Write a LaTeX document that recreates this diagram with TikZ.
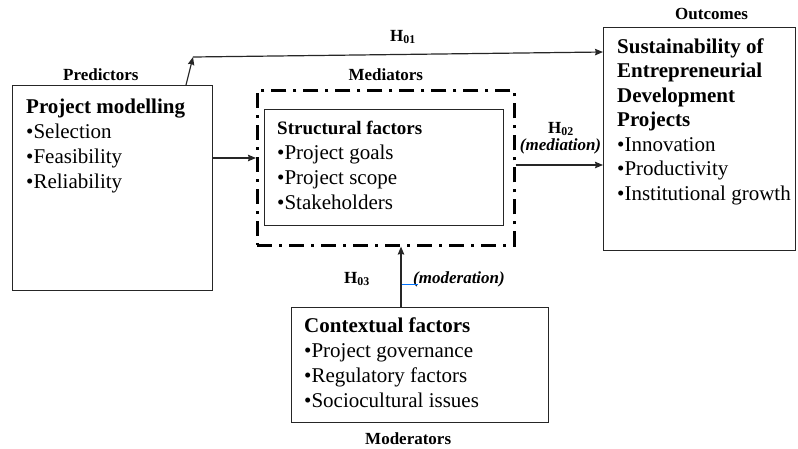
\documentclass[tikz,border=0pt]{standalone}
\usepackage{fontspec}
\setmainfont{Liberation Serif}
\usetikzlibrary{
		calc,
		positioning,
		arrows.meta
	}
\tikzset{
		>={Stealth[length=8pt,width=6.5pt,inset=1pt]}
	}

\begin{document}
\begin{tikzpicture}[-,auto,x=1pt,y=-1pt]
	\tikzstyle{point}=[coordinate]
	\tikzstyle{block}=[draw=black!85, line width=1pt, rectangle, anchor=north west, inner sep=0pt]
	\tikzstyle{dashblock}=[draw=black, line width=2.6pt, dash pattern=on 15pt off 7pt on 3pt off 7pt, rectangle, anchor=north west, inner sep=0pt]
	\tikzstyle{txt}=[inner sep=0pt, align=left, font=\fontsize{21}{25}\selectfont]
	\tikzstyle{lbl}=[inner sep=0pt, font=\fontsize{17}{20}\selectfont\bfseries]
	\tikzstyle{link}=[->, line width=1.2pt, black!85]
	\useasboundingbox (0,0) rectangle (798,448);
	% Blocks
	\node[block, minimum width=200pt, minimum height=205pt] (pm)  at (12,85)  {};
	\node[dashblock, minimum width=257pt, minimum height=155pt] (med) at (256,89) {};
	\node[block, minimum width=239pt, minimum height=116pt] (sf)  at (264,109) {};
	\node[block, minimum width=192pt, minimum height=223pt] (out) at (603,27)  {};
	\node[block, minimum width=257pt, minimum height=115pt] (ctx) at (291,307) {};
	% Texts
	\node[txt] (pmtxt)  [below right = 14pt and 14pt of pm.north west]  {\textbf{Project modelling}\\•Selection\\•Feasibility\\•Reliability};
	\node[txt] (sftxt)  [below right = 12pt and 13pt of sf.north west]  {{\fontsize{19}{25}\selectfont\bfseries Structural factors}\\•Project goals\\•Project scope\\•Stakeholders};
	\node[txt, font=\fontsize{21}{24.5}\selectfont] (outtxt) [below right = 11.5pt and 14pt of out.north west] {\textbf{Sustainability of}\\\textbf{Entrepreneurial}\\\textbf{Development}\\\textbf{Projects}\\•Innovation\\•Productivity\\•Institutional growth};
	\node[txt] (ctxtxt) [below right = 11pt and 13pt of ctx.north west] {\textbf{Contextual factors}\\•Project governance\\•Regulatory factors\\•Sociocultural issues};
	% Group labels
	\node[lbl] (pred) [above right = 4pt and 51pt of pm.north west]   {Predictors};
	\node[lbl] (medl) [above = 8pt of med.north]                       {Mediators};
	\node[lbl] (outl) [above right = 7pt and 72pt of out.north west]  {Outcomes};
	\node[lbl] (modl) [below right = 9pt and 74pt of ctx.south west]  {Moderators};
	% Hypotheses
	\node[lbl, anchor=base] (h01) at (403,41)  {H\textsubscript{01}};
	\node[lbl, anchor=base] (h02) at (561,133) {H\textsubscript{02}};
	\node[lbl, anchor=base, font=\fontsize{17}{20}\selectfont\bfseries\itshape] (mlbl) at (560.5,150) {(mediation)};
	\node[lbl, anchor=base] (h03) at (357,283) {H\textsubscript{03}};
	\node[lbl, anchor=base west, font=\fontsize{17}{20}\selectfont\bfseries\itshape] (olbl) at (413,283) {(moderation)};
	% Points
	\coordinate[right = 174pt of pm.north west] (p0);
	\coordinate[above right = 28pt and 7pt of p0] (p1);
	\coordinate[below = 25pt of out.north west] (p2);
	\coordinate[below = 73pt of pm.north east] (p3);
	\coordinate[below = 76pt of med.north east] (p4);
	\coordinate[right = 110pt of ctx.north west] (p5);
	% Arrows
	\draw[link] (p0) -- (p1);
	\draw[link] (p1) -- (p2);
	\draw[link] (p3) -- (p3 -| med.west);
	\draw[link] (p4) -- (p4 -| out.west);
	\draw[link] (p5) -- (p5 |- med.south);
	\draw[blue!55!cyan, line width=1pt] ($(p5 |- olbl.base)+(1,1.5)$) -- ($(olbl.base west)+(5,1.5)$);
\end{tikzpicture}
\end{document}
